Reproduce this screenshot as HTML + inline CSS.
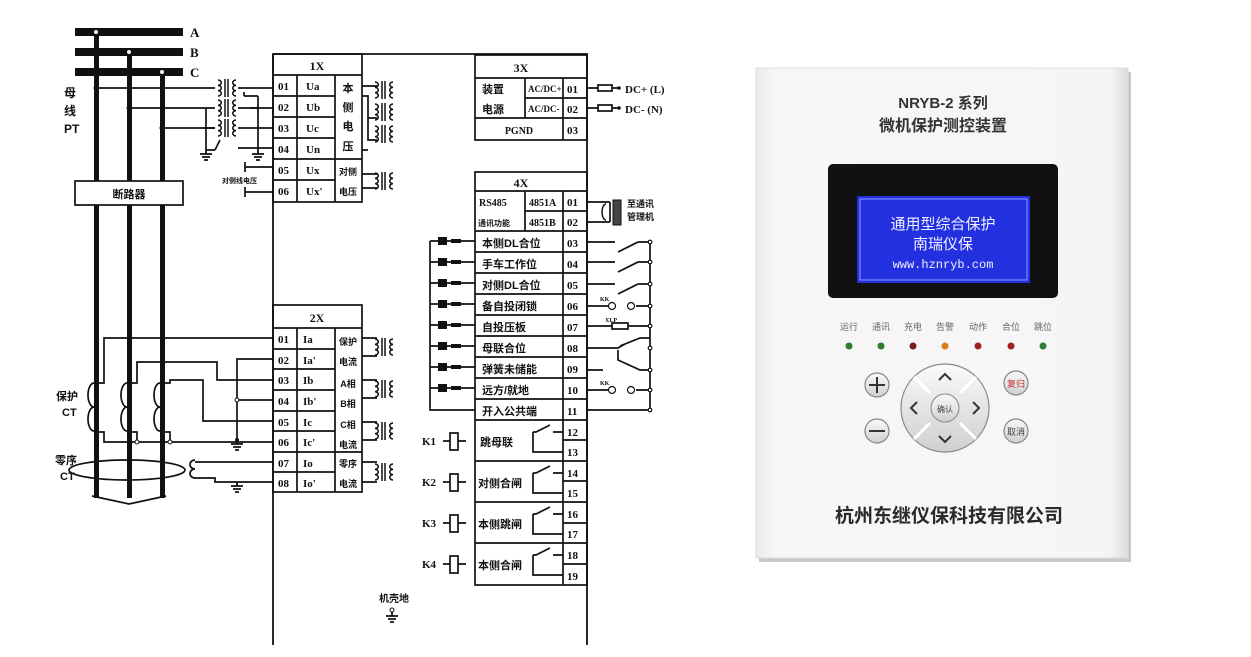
<!DOCTYPE html>
<html><head><meta charset="utf-8"><style>
html,body{margin:0;padding:0;background:#fff;width:1251px;height:657px;overflow:hidden}
svg{display:block}
.t{font-family:"Liberation Serif","Noto Serif CJK SC",serif;font-weight:bold;fill:#111}
.c{font-family:"Liberation Sans","Noto Sans CJK SC",sans-serif;font-weight:bold;fill:#111}
</style></head><body>
<svg width="1251" height="657" viewBox="0 0 1251 657" xmlns="http://www.w3.org/2000/svg">
<defs>
<linearGradient id="pan" x1="0" x2="1" y1="0" y2="0"><stop offset="0" stop-color="#e9e9e9"/><stop offset="0.05" stop-color="#f7f7f7"/><stop offset="0.95" stop-color="#f5f5f5"/><stop offset="1" stop-color="#dcdcdc"/></linearGradient>
<linearGradient id="btn" x1="0" x2="0" y1="0" y2="1"><stop offset="0" stop-color="#fafafa"/><stop offset="1" stop-color="#cfcfcf"/></linearGradient>
<g id="tr" fill="none" stroke="#111" stroke-width="1.5">
<path d="M-10 -8 a3.5 2.67 0 0 1 0 5.33 a3.5 2.67 0 0 1 0 5.33 a3.5 2.67 0 0 1 0 5.33"/>
<path d="M-3 -9 V9 M0 -9 V9"/>
<path d="M8 -8 a3.5 2.67 0 0 0 0 5.33 a3.5 2.67 0 0 0 0 5.33 a3.5 2.67 0 0 0 0 5.33"/>
</g>
<g id="gnd" stroke="#111" stroke-width="1.8"><path d="M0 0 V4 M-6 4 H6 M-4 7 H4 M-2 10 H2"/></g>
</defs>

<!-- ============ BUS ============ -->
<g fill="#111">
<rect x="75" y="28" width="108" height="8"/>
<rect x="75" y="48" width="108" height="8"/>
<rect x="75" y="68" width="108" height="8"/>
<rect x="94" y="32" width="5" height="466"/>
<rect x="127" y="52" width="5" height="446"/>
<rect x="160" y="72" width="5" height="426"/>
</g>
<circle cx="96" cy="32" r="2" fill="#fff"/><circle cx="129" cy="52" r="2" fill="#fff"/><circle cx="162" cy="72" r="2" fill="#fff"/>
<text x="190" y="37" class="t" font-size="13">A</text>
<text x="190" y="57" class="t" font-size="13">B</text>
<text x="190" y="77" class="t" font-size="13">C</text>
<text x="64" y="97" class="c" font-size="12">母</text>
<text x="64" y="115" class="c" font-size="12">线</text>
<text x="64" y="133" class="c" font-size="12">PT</text>
<rect x="75" y="181" width="108" height="24" fill="#fff" stroke="#111" stroke-width="1.7"/>
<text x="129" y="198" class="c" font-size="11" text-anchor="middle">断路器</text>

<!-- PT wiring -->
<g stroke="#111" stroke-width="1.7" fill="none">
<path d="M96 88 H215 M129 108 H215 M162 128 H215"/>
<path d="M238 88 H273 M238 108 H273 M238 128 H273 M238 148 H273"/>
<path d="M206 108 V150 M206 128 H215 M206 150 H215 M215 150 L220 140"/>
<path d="M258 96 V150 M258 108 H250 M258 96 H244 M244 96 V92"/>
<path d="M245 162 V172 M245 167 H273 M245 187 V197 M245 192 H273"/>
</g>
<circle cx="96" cy="88" r="2.5" fill="#111"/><circle cx="129" cy="108" r="2.5" fill="#111"/><circle cx="162" cy="128" r="2.5" fill="#111"/>
<use href="#tr" x="228" y="88"/><use href="#tr" x="228" y="108"/><use href="#tr" x="228" y="128"/>
<use href="#gnd" x="206" y="150"/><use href="#gnd" x="258" y="150"/>
<text x="222" y="183" class="c" font-size="7">对侧线电压</text>

<!-- main frame -->
<path d="M273 54 H587 V645 M273 54 V645" stroke="#111" stroke-width="1.8" fill="none"/>

<!-- 1X -->
<g stroke="#111" stroke-width="1.7" fill="none">
<rect x="273" y="54" width="89" height="148"/>
<path d="M273 75 H362 M273 96 H335 M273 117 H335 M273 138 H335 M273 159 H362 M273 180 H335"/>
<path d="M297 75 V202 M335 75 V202"/>
</g>
<text x="317" y="70" class="t" font-size="12" text-anchor="middle">1X</text>
<g class="t" font-size="11">
<text x="278" y="90">01</text><text x="278" y="111">02</text><text x="278" y="132">03</text><text x="278" y="153">04</text><text x="278" y="174">05</text><text x="278" y="195">06</text>
<text x="306" y="90">Ua</text><text x="306" y="111">Ub</text><text x="306" y="132">Uc</text><text x="306" y="153">Un</text><text x="306" y="174">Ux</text><text x="306" y="195">Ux'</text>
</g>
<g class="c" font-size="11" text-anchor="middle">
<text x="348" y="92">本</text><text x="348" y="111">侧</text><text x="348" y="130">电</text><text x="348" y="150">压</text>
<text x="348" y="175" font-size="9">对侧</text><text x="348" y="195" font-size="9">电压</text>
</g>
<g stroke="#111" stroke-width="1.7" fill="none">
<path d="M362 86 H377 M362 96 H368 V140 H377 M368 118 H377 M362 150 H368 M362 174 H377 M362 188 H377"/>
</g>
<use href="#tr" x="385" y="90"/><use href="#tr" x="385" y="112"/><use href="#tr" x="385" y="134"/><use href="#tr" x="385" y="181"/>

<!-- 2X -->
<g stroke="#111" stroke-width="1.7" fill="none">
<rect x="273" y="305" width="89" height="187"/>
<path d="M273 328 H362 M273 349 H335 M273 369 H335 M273 390 H335 M273 411 H335 M273 431 H335 M273 452 H362 M273 472 H335"/>
<path d="M297 328 V492 M335 328 V492"/>
<path d="M362 338 H377 M362 356 H377 M362 380 H377 M362 398 H377 M362 422 H377 M362 440 H377 M362 462 H377 M362 482 H377"/>
</g>
<use href="#tr" x="385" y="347"/><use href="#tr" x="385" y="389"/><use href="#tr" x="385" y="431"/><use href="#tr" x="385" y="472"/>
<text x="317" y="322" class="t" font-size="12" text-anchor="middle">2X</text>
<g class="t" font-size="11">
<text x="278" y="343">01</text><text x="278" y="364">02</text><text x="278" y="384">03</text><text x="278" y="405">04</text><text x="278" y="426">05</text><text x="278" y="446">06</text><text x="278" y="467">07</text><text x="278" y="487">08</text>
<text x="303" y="343">Ia</text><text x="303" y="364">Ia'</text><text x="303" y="384">Ib</text><text x="303" y="405">Ib'</text><text x="303" y="426">Ic</text><text x="303" y="446">Ic'</text><text x="303" y="467">Io</text><text x="303" y="487">Io'</text>
</g>
<g class="c" font-size="9" text-anchor="middle">
<text x="348" y="345">保护</text><text x="348" y="365">电流</text><text x="348" y="387">A相</text><text x="348" y="407">B相</text><text x="348" y="428">C相</text><text x="348" y="448">电流</text><text x="348" y="467">零序</text><text x="348" y="487">电流</text>
</g>

<!-- CT wiring -->
<g stroke="#111" stroke-width="1.7" fill="none">
<path d="M273 338 H104 V383 H99"/>
<path d="M273 359 H237 V440"/>
<path d="M273 380 H217 V362 H137 V383 H132"/>
<path d="M273 400 H237"/>
<path d="M273 421 H203 V380 H170 V383 H165"/>
<path d="M273 442 H104 V432 H99 M132 432 H137 V442 M165 432 H170 V442"/>
<path d="M94 383 a6 12 0 0 0 0 24 a6 12 0 0 0 0 24"/>
<path d="M127 383 a6 12 0 0 0 0 24 a6 12 0 0 0 0 24"/>
<path d="M160 383 a6 12 0 0 0 0 24 a6 12 0 0 0 0 24"/>
<ellipse cx="127" cy="470" rx="58" ry="10"/>
<path d="M195 460 a5 4.5 0 0 0 0 9 a5 4.5 0 0 0 0 9 M195 462 H273 M195 478 H215 V482 H273"/>
<path d="M92 496 L129 504 L166 496"/>
</g>
<circle cx="237" cy="400" r="2" fill="#fff" stroke="#111"/>
<circle cx="137" cy="442" r="2" fill="#fff" stroke="#111"/><circle cx="170" cy="442" r="2" fill="#fff" stroke="#111"/>
<circle cx="237" cy="440" r="2" fill="#111"/>
<use href="#gnd" x="237" y="440"/><use href="#gnd" x="237" y="482"/>
<text x="56" y="400" class="c" font-size="11">保护</text><text x="62" y="416" class="c" font-size="11">CT</text>
<text x="55" y="464" class="c" font-size="11">零序</text><text x="60" y="480" class="c" font-size="11">CT</text>

<!-- 3X -->
<g stroke="#111" stroke-width="1.7" fill="none">
<rect x="475" y="55" width="112" height="85"/>
<path d="M475 78 H587 M525 98 H587 M475 118 H587 M525 78 V118 M563 78 V140"/>
<path d="M587 88 H598 M612 88 H618 M587 108 H598 M612 108 H618"/>
<rect x="598" y="85" width="14" height="6"/><rect x="598" y="105" width="14" height="6"/>
</g>
<circle cx="619" cy="88" r="1.8" fill="#111"/><circle cx="619" cy="108" r="1.8" fill="#111"/>
<text x="521" y="72" class="t" font-size="12" text-anchor="middle">3X</text>
<text x="482" y="93" class="c" font-size="11">装置</text><text x="482" y="113" class="c" font-size="11">电源</text>
<text x="528" y="92" class="t" font-size="9">AC/DC+</text><text x="528" y="112" class="t" font-size="9">AC/DC-</text>
<text x="567" y="93" class="t" font-size="11">01</text><text x="567" y="113" class="t" font-size="11">02</text><text x="567" y="134" class="t" font-size="11">03</text>
<text x="519" y="134" class="t" font-size="10" text-anchor="middle">PGND</text>
<text x="625" y="93" class="t" font-size="11">DC+ (L)</text><text x="625" y="113" class="t" font-size="11">DC- (N)</text>

<!-- 4X -->
<g stroke="#111" stroke-width="1.7" fill="none">
<rect x="475" y="172" width="112" height="413"/>
<path d="M475 191 H587 M525 211 H587 M563 191 V585 M525 191 V231"/>
<path d="M475 231 H587 M475 252 H587 M475 273 H587 M475 294 H587 M475 315 H587 M475 336 H587 M475 357 H587 M475 378 H587 M475 399 H587 M475 420 H587 M563 440 H587 M475 461 H587 M563 481 H587 M475 502 H587 M563 523 H587 M475 543 H587 M563 564 H587"/>
</g>
<text x="521" y="187" class="t" font-size="12" text-anchor="middle">4X</text>
<text x="479" y="206" class="t" font-size="10">RS485</text><text x="478" y="226" class="c" font-size="8">通讯功能</text>
<text x="529" y="206" class="t" font-size="10">4851A</text><text x="529" y="226" class="t" font-size="10">4851B</text>
<g class="t" font-size="11">
<text x="567" y="206">01</text><text x="567" y="226">02</text><text x="567" y="247">03</text><text x="567" y="268">04</text><text x="567" y="289">05</text><text x="567" y="310">06</text><text x="567" y="331">07</text><text x="567" y="352">08</text><text x="567" y="373">09</text><text x="567" y="394">10</text><text x="567" y="415">11</text>
<text x="567" y="436">12</text><text x="567" y="456">13</text><text x="567" y="477">14</text><text x="567" y="497">15</text><text x="567" y="518">16</text><text x="567" y="538">17</text><text x="567" y="559">18</text><text x="567" y="580">19</text>
</g>
<g class="c" font-size="11">
<text x="482" y="247">本侧DL合位</text><text x="482" y="268">手车工作位</text><text x="482" y="289">对侧DL合位</text><text x="482" y="310">备自投闭锁</text><text x="482" y="331">自投压板</text><text x="482" y="352">母联合位</text><text x="482" y="373">弹簧未储能</text><text x="482" y="394">远方/就地</text><text x="482" y="415">开入公共端</text>
<text x="480" y="446">跳母联</text><text x="478" y="487">对侧合闸</text><text x="478" y="528">本侧跳闸</text><text x="478" y="569">本侧合闸</text>
</g>
<!-- left inputs -->
<g stroke="#111" stroke-width="1.7" fill="none">
<path d="M430 241 V410 H475"/>
<path d="M430 241 H475 M430 262 H475 M430 283 H475 M430 304 H475 M430 325 H475 M430 346 H475 M430 367 H475 M430 388 H475"/>
</g>
<g fill="#111">
<rect x="438" y="237" width="9" height="8"/><rect x="451" y="239" width="10" height="4"/>
<rect x="438" y="258" width="9" height="8"/><rect x="451" y="260" width="10" height="4"/>
<rect x="438" y="279" width="9" height="8"/><rect x="451" y="281" width="10" height="4"/>
<rect x="438" y="300" width="9" height="8"/><rect x="451" y="302" width="10" height="4"/>
<rect x="438" y="321" width="9" height="8"/><rect x="451" y="323" width="10" height="4"/>
<rect x="438" y="342" width="9" height="8"/><rect x="451" y="344" width="10" height="4"/>
<rect x="438" y="363" width="9" height="8"/><rect x="451" y="365" width="10" height="4"/>
<rect x="438" y="384" width="9" height="8"/><rect x="451" y="386" width="10" height="4"/>
</g>
<!-- right contacts -->
<g stroke="#111" stroke-width="1.7" fill="none">
<path d="M650 242 V410"/>
<path d="M587 202 H610 M587 222 H610 M610 202 V222"/>
<path d="M587 242 H615 M618 252 L638 242 M638 242 H650"/>
<path d="M587 262 H615 M618 272 L638 262 M638 262 H650"/>
<path d="M587 284 H615 M618 294 L638 284 M638 284 H650"/>
<path d="M587 306 H608 M636 306 H650"/>
<path d="M587 326 H612 M628 326 H650"/>
<rect x="612" y="323" width="16" height="6"/>
<path d="M587 348 H618 L625 344 M620 346 L640 338 H650 M618 350 V360 L640 370 H650 M587 370 H603"/>
<path d="M587 390 H608 M636 390 H650"/>
<path d="M587 410 H650"/>
</g>
<rect x="613" y="200" width="8" height="25" fill="#444" stroke="#111"/>
<path d="M606 204 a4 8 0 0 0 0 16" stroke="#111" fill="none" stroke-width="1.5"/>
<text x="627" y="207" class="c" font-size="9">至通讯</text><text x="627" y="220" class="c" font-size="9">管理机</text>
<g fill="#fff" stroke="#111" stroke-width="1.2">
<circle cx="612" cy="306" r="3.5"/><circle cx="631" cy="306" r="3.5"/>
<circle cx="612" cy="390" r="3.5"/><circle cx="631" cy="390" r="3.5"/>
<circle cx="650" cy="242" r="1.8"/><circle cx="650" cy="262" r="1.8"/><circle cx="650" cy="284" r="1.8"/><circle cx="650" cy="306" r="1.8"/><circle cx="650" cy="326" r="1.8"/><circle cx="650" cy="348" r="1.8"/><circle cx="650" cy="370" r="1.8"/><circle cx="650" cy="390" r="1.8"/><circle cx="650" cy="410" r="1.8"/>
</g>
<text x="600" y="301" class="t" font-size="6">KK</text><text x="600" y="385" class="t" font-size="6">KK</text><text x="605" y="322" class="t" font-size="6">XLP</text>
<!-- relays -->
<g stroke="#111" stroke-width="1.7" fill="none">
<path d="M443 441 H450 M458 441 H466 M443 482 H450 M458 482 H466 M443 523 H450 M458 523 H466 M443 564 H450 M458 564 H466"/>
<rect x="450" y="433" width="8" height="17"/><rect x="450" y="474" width="8" height="17"/><rect x="450" y="515" width="8" height="17"/><rect x="450" y="556" width="8" height="17"/>
<path d="M533 432 H536 L550 425 M553 432 H563 M533 432 V452 H563"/>
<path d="M533 473 H536 L550 466 M553 473 H563 M533 473 V493 H563"/>
<path d="M533 514 H536 L550 507 M553 514 H563 M533 514 V534 H563"/>
<path d="M533 555 H536 L550 548 M553 555 H563 M533 555 V575 H563"/>
</g>
<text x="422" y="445" class="t" font-size="11">K1</text><text x="422" y="486" class="t" font-size="11">K2</text><text x="422" y="527" class="t" font-size="11">K3</text><text x="422" y="568" class="t" font-size="11">K4</text>
<!-- chassis ground -->
<text x="379" y="602" class="c" font-size="10">机壳地</text>
<circle cx="392" cy="610" r="2" fill="none" stroke="#111"/>
<use href="#gnd" x="392" y="612"/>

<!-- ============ DEVICE ============ -->
<rect x="759" y="72" width="372" height="490" fill="#c8c8c8"/>
<rect x="756" y="68" width="372" height="490" fill="url(#pan)" stroke="#ddd"/>
<text x="943" y="108" font-family="Liberation Sans,'Noto Sans CJK SC',sans-serif" font-weight="bold" font-size="15" fill="#333" text-anchor="middle">NRYB-2 系列</text>
<text x="943" y="131" font-family="'Noto Sans CJK SC',sans-serif" font-weight="bold" font-size="16" fill="#333" text-anchor="middle">微机保护测控装置</text>
<rect x="828" y="164" width="230" height="134" rx="5" fill="#111"/>
<rect x="857" y="196" width="173" height="87" fill="#2230e0"/>
<rect x="860" y="199" width="167" height="81" fill="none" stroke="#8aa0ff" stroke-width="1"/>
<text x="943" y="229" font-family="'Noto Sans CJK SC',sans-serif" font-size="15" fill="#f0f0ff" text-anchor="middle">通用型综合保护</text>
<text x="943" y="249" font-family="'Noto Sans CJK SC',sans-serif" font-size="15" fill="#f0f0ff" text-anchor="middle">南瑞仪保</text>
<text x="943" y="268" font-family="'Liberation Mono',monospace" font-size="12" fill="#f0f0ff" text-anchor="middle">www.hznryb.com</text>
<g font-family="'Noto Sans CJK SC',sans-serif" font-size="9" fill="#666" text-anchor="middle">
<text x="849" y="330">运行</text><text x="881" y="330">通讯</text><text x="913" y="330">充电</text><text x="945" y="330">告警</text><text x="978" y="330">动作</text><text x="1011" y="330">合位</text><text x="1043" y="330">跳位</text>
</g>
<circle cx="849" cy="346" r="3.5" fill="#2e7d32"/><circle cx="881" cy="346" r="3.5" fill="#2e7d32"/><circle cx="913" cy="346" r="3.5" fill="#7a1f1f"/><circle cx="945" cy="346" r="3.5" fill="#d87a1a"/><circle cx="978" cy="346" r="3.5" fill="#a52020"/><circle cx="1011" cy="346" r="3.5" fill="#a52020"/><circle cx="1043" cy="346" r="3.5" fill="#2e7d32"/>
<g stroke="#888" stroke-width="1.2" fill="url(#btn)">
<circle cx="877" cy="385" r="12"/><circle cx="877" cy="431" r="12"/><circle cx="1016" cy="383" r="12"/><circle cx="1016" cy="431" r="12"/>
<circle cx="945" cy="408" r="44"/>
</g>
<g stroke="#fff" stroke-width="3" fill="none">
<path d="M914 377 L930 393 M976 377 L960 393 M914 439 L930 423 M976 439 L960 423"/>
</g>
<circle cx="945" cy="408" r="14" fill="url(#btn)" stroke="#888"/>
<g stroke="#333" stroke-width="2" fill="none">
<path d="M869 385 H885 M877 377 V393 M869 431 H885"/>
<path d="M939 380 L945 374 L951 380 M939 436 L945 442 L951 436 M917 402 L911 408 L917 414 M973 402 L979 408 L973 414"/>
</g>
<text x="945" y="412" font-family="'Noto Sans CJK SC',sans-serif" font-size="8" fill="#444" text-anchor="middle">确认</text>
<text x="1016" y="387" font-family="'Noto Sans CJK SC',sans-serif" font-size="9" fill="#c03030" text-anchor="middle">复归</text>
<text x="1016" y="435" font-family="'Noto Sans CJK SC',sans-serif" font-size="9" fill="#444" text-anchor="middle">取消</text>
<text x="949" y="522" font-family="'Noto Sans CJK SC',sans-serif" font-weight="bold" font-size="19" fill="#2a2a2a" text-anchor="middle">杭州东继仪保科技有限公司</text>
</svg>
</body></html>
